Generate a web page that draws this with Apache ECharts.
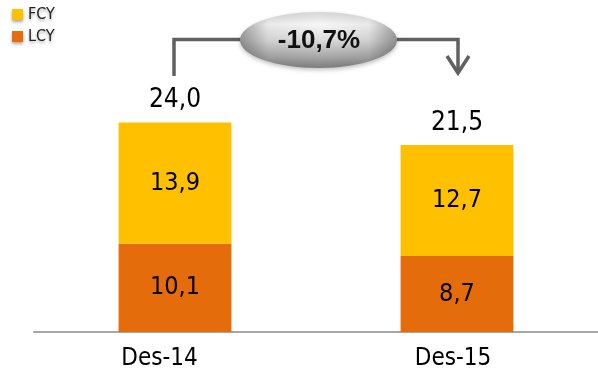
<!DOCTYPE html>
<html>
<head>
<meta charset="utf-8">
<script src="https://cdn.jsdelivr.net/npm/echarts@6/dist/echarts.min.js"></script>
<style>html,body{margin:0;padding:0;background:#fff}#c{width:598px;height:375px}</style>
</head>
<body>
<div id="c"></div>
<script>
const categories = ['Des-14', 'Des-15'];
const lcy = [10.1, 8.7];
const fcy = [13.9, 12.7];
const totals = [24.0, 21.5];
const changeLabel = '-10,7%';

const FONT = "'DejaVu Sans Condensed', 'DejaVu Sans', sans-serif";
const fmt = v => v.toFixed(1).replace('.', ',');

const chart = echarts.init(document.getElementById('c'));
chart.setOption({
  animation: false,
  backgroundColor: '#ffffff',
  grid: { left: 34, right: -4, top: 70, bottom: 43 },
  legend: {
    data: ['FCY', 'LCY'],
    orient: 'vertical',
    left: 12, top: 6.5, padding: 0,
    itemWidth: 11, itemHeight: 11, itemGap: 6, itemTextGap: 7,
    icon: 'rect',
    itemStyle: { shadowColor: 'rgba(0,0,0,0.35)', shadowBlur: 3, shadowOffsetY: 2 },
    textStyle: { fontFamily: FONT, fontSize: 16, color: '#222',
      textShadowColor: 'rgba(0,0,0,0.35)', textShadowBlur: 3, textShadowOffsetY: 2 }
  },
  xAxis: {
    type: 'category',
    data: categories,
    axisLine: { lineStyle: { color: '#a6a6a6', width: 2 } },
    axisTick: { length: 8, lineStyle: { color: '#a6a6a6', width: 2 } },
    axisLabel: {
      margin: 15, color: '#000', fontFamily: FONT, fontSize: 24,
      formatter: (v, i) => '{l' + i + '|' + v + '}',
      rich: {
        l0: { fontFamily: FONT, fontSize: 24, color: '#000', padding: [0, 31, 0, 0] },
        l1: { fontFamily: FONT, fontSize: 24, color: '#000', padding: [0, 8, 0, 0] }
      }
    }
  },
  yAxis: { type: 'value', min: 0, max: 30, show: false, splitLine: { show: false } },
  series: [
    {
      name: 'LCY', type: 'bar', stack: 's', barWidth: '40%', data: lcy,
      itemStyle: { color: '#E46C0A' },
      label: { show: true, position: 'inside', fontFamily: FONT, fontSize: 25, color: '#000',
        formatter: p => fmt(p.value) }
    },
    {
      name: 'FCY', type: 'bar', stack: 's', barWidth: '40%', data: fcy,
      itemStyle: { color: '#FFC000' },
      label: { show: true, position: 'inside', fontFamily: FONT, fontSize: 25, color: '#000',
        formatter: p => fmt(p.value) }
    },
    {
      name: 'Total', type: 'bar', stack: 's', barWidth: '40%', data: totals.map(() => 0),
      itemStyle: { color: 'transparent' },
      label: { show: true, position: 'top', distance: 9, fontFamily: FONT, fontSize: 26, color: '#000',
        formatter: p => fmt(totals[p.dataIndex]) }
    }
  ],
  graphic: [
    { type: 'polyline', z: 10, shape: { points: [[174, 76], [174, 39.5], [245, 39.5]] },
      style: { stroke: '#606060', lineWidth: 3.5, fill: null } },
    { type: 'polyline', z: 10, shape: { points: [[392, 39.5], [458, 39.5], [458, 73]] },
      style: { stroke: '#606060', lineWidth: 3.5, fill: null } },
    { type: 'polyline', z: 10, shape: { points: [[447, 56], [458, 73], [469, 56]] },
      style: { stroke: '#606060', lineWidth: 3.5, fill: null } },
    { type: 'ellipse', z: 11, shape: { cx: 318.5, cy: 40, rx: 78.5, ry: 28 },
      style: {
        fill: new echarts.graphic.LinearGradient(0, 0, 0, 1, [
          { offset: 0, color: '#d6d6d6' },
          { offset: 0.22, color: '#f6f6f6' },
          { offset: 0.5, color: '#dcdcdc' },
          { offset: 0.8, color: '#a8a8a8' },
          { offset: 1, color: '#7c7c7c' }
        ]),
        shadowColor: 'rgba(0,0,0,0.25)', shadowBlur: 4, shadowOffsetY: 2
      } },
    { type: 'ellipse', z: 11, silent: true, shape: { cx: 318.5, cy: 40, rx: 78.5, ry: 28 },
      style: {
        fill: new echarts.graphic.LinearGradient(0, 0, 1, 0, [
          { offset: 0, color: 'rgba(0,0,0,0.35)' },
          { offset: 0.18, color: 'rgba(0,0,0,0.05)' },
          { offset: 0.5, color: 'rgba(0,0,0,0)' },
          { offset: 0.82, color: 'rgba(0,0,0,0.05)' },
          { offset: 1, color: 'rgba(0,0,0,0.35)' }
        ])
      } },
    { type: 'text', z: 12, x: 319, y: 41,
      style: { text: changeLabel, font: "bold 26px 'Liberation Sans', Arial, sans-serif",
        fill: '#111', align: 'center', verticalAlign: 'middle' } }
  ]
});
</script>
</body>
</html>
